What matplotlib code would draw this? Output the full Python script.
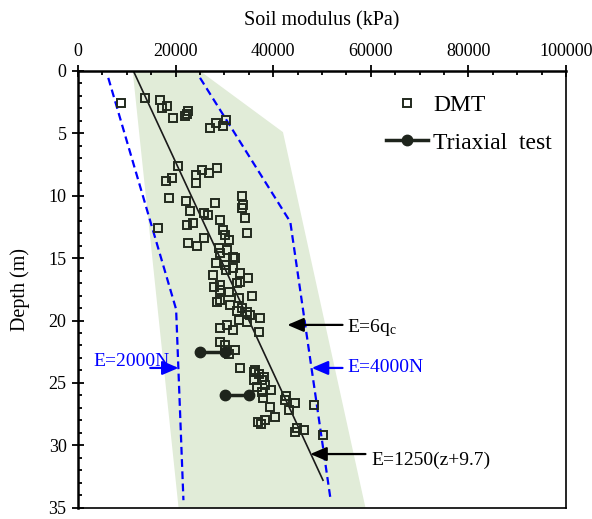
import matplotlib
matplotlib.use('Agg')
import matplotlib.pyplot as plt
from matplotlib.ticker import MultipleLocator

plt.rcParams['font.family'] = ['Liberation Serif', 'DejaVu Serif']
plt.rcParams['mathtext.fontset'] = 'custom'
plt.rcParams['mathtext.rm'] = 'Liberation Serif'
plt.rcParams['mathtext.it'] = 'Liberation Serif:italic'

# DMT soil modulus (kPa) and depth (m)
dmt_E = [8820, 13750, 16820, 18330, 17170, 19430, 21950, 22630, 22430, 27080,
         28310, 29610, 30370, 20580, 25370, 26740, 28450, 24210, 24210, 19220,
         18060, 18740, 22160, 22980, 28110, 33580, 33790, 33580, 25900, 26700,
         29130, 34260, 16480, 22430, 23510, 34610, 29810, 30160, 30840, 22630,
         24350, 25850, 28990, 30630, 29130, 31860, 32210, 28310, 30160, 30370,
         31740, 27760, 33100, 34740, 32560, 33240, 27900, 29130, 29130, 30840,
         32890, 35630, 28580, 29130, 31180, 33580, 32560, 34610, 35150, 37340,
         32890, 34610, 29130, 30500, 31860, 36990, 29130, 30160, 32210, 30840,
         30020, 33240, 35970, 36310, 38020, 35970, 37690, 38370, 39600, 37690,
         37810, 39390, 40420, 38370, 36860, 37550, 42680, 42470, 44520, 43150,
         48280, 44860, 46230, 44520, 50130, 37000, 36700]
dmt_z = [2.59, 2.19, 2.32, 2.80, 2.99, 3.79, 3.61, 3.20, 3.47, 4.59,
         4.19, 4.41, 3.93, 7.59, 7.93, 8.20, 7.75, 8.33, 9.00, 8.60,
         8.79, 10.15, 10.39, 11.19, 10.55, 9.99, 10.74, 11.00, 11.35, 11.55,
         11.94, 11.80, 12.55, 12.34, 12.20, 13.00, 12.74, 13.14, 13.54, 13.81,
         14.00, 13.41, 14.21, 14.34, 14.61, 14.88, 15.01, 15.41, 15.54, 15.95,
         15.81, 16.35, 16.21, 16.56, 17.01, 16.88, 17.28, 17.15, 17.55, 17.73,
         18.16, 18.00, 18.48, 18.35, 18.75, 19.01, 19.23, 19.33, 19.55, 19.77,
         19.95, 20.14, 20.57, 20.35, 20.75, 20.89, 21.74, 21.95, 22.36, 22.70,
         22.36, 23.77, 24.09, 23.96, 24.50, 24.76, 24.76, 25.16, 25.56, 25.70,
         26.17, 26.90, 27.70, 27.96, 28.15, 28.31, 26.02, 26.36, 26.58, 27.16,
         26.76, 28.58, 28.77, 28.95, 29.17, 24.30, 25.30]

# triaxial tests
tri1_E = [25000, 30200]
tri1_z = [22.5, 22.5]
tri2_E = [30200, 35100]
tri2_z = [26.0, 26.0]

# E = 6qc band
band_E = [11200, 25000, 42000, 58900, 20600]
band_z = [0, 0, 4.9, 35, 35]

# E = 2000N and E = 4000N
n2000_E = [6200, 20100, 21600]
n2000_z = [0.55, 19.1, 34.4]
n4000_E = [25000, 43500, 51700]
n4000_z = [0.55, 12.1, 34.2]

# E = 1250(z+9.7)
fit_E = [11350, 50200]
fit_z = [0, 32.8]

fig = plt.figure(figsize=(5.92, 5.19), dpi=100)
ax = fig.add_axes([0.1318, 0.0218, 0.8243, 0.8414])

ax.fill(band_E, band_z, color='#e1ecd8', lw=0, zorder=0)
ax.plot(n2000_E, n2000_z, color='#0000ff', ls=(0, (3.5, 2)), lw=1.6, zorder=2)
ax.plot(n4000_E, n4000_z, color='#0000ff', ls=(0, (3.5, 2)), lw=1.6, zorder=2)
ax.plot(fit_E, fit_z, color='#1a1a1a', lw=1.2, zorder=2)
ax.plot(dmt_E, dmt_z, ls='none', marker='s', ms=6.2, mfc='none', mec='#222a1e',
        mew=1.4, zorder=3, label='DMT')
ax.plot(tri1_E, tri1_z, color='#1e241c', lw=2.5, marker='o', ms=7.5, zorder=4,
        label='Triaxial  test')
ax.plot(tri2_E, tri2_z, color='#1e241c', lw=2.5, marker='o', ms=7.5, zorder=4)

arrow_k = dict(arrowstyle='-|>,head_length=0.7,head_width=0.3', color='black',
               lw=1.6, shrinkA=0, shrinkB=0, mutation_scale=14)
arrow_b = dict(arrow_k, color='#0000ff')
ax.annotate('', xy=(42900, 20.35), xytext=(54200, 20.35), arrowprops=arrow_k)
ax.text(55200, 20.55, r'E=6q$_\mathrm{c}$', fontsize=14, va='center')
ax.annotate('', xy=(47900, 23.8), xytext=(54200, 23.8), arrowprops=arrow_b)
ax.text(55200, 23.75, 'E=4000N', fontsize=14, va='center', color='#0000ff')
ax.annotate('', xy=(47600, 30.7), xytext=(58900, 30.7), arrowprops=arrow_k)
ax.text(60100, 31.2, 'E=1250(z+9.7)', fontsize=14, va='center')
ax.annotate('', xy=(20600, 23.8), xytext=(14800, 23.8), arrowprops=arrow_b)
ax.text(3200, 23.3, 'E=2000N', fontsize=14, va='center', color='#0000ff')

ax.set_xlim(0, 100000)
ax.set_ylim(35, 0)
ax.xaxis.tick_top()
ax.xaxis.set_label_position('top')
ax.xaxis.set_major_locator(MultipleLocator(20000))
ax.xaxis.set_minor_locator(MultipleLocator(5000))
ax.yaxis.set_major_locator(MultipleLocator(5))
ax.yaxis.set_minor_locator(MultipleLocator(1))
ax.tick_params(which='major', direction='inout', length=8.5, width=1.3,
               labelsize=13, pad=4)
ax.tick_params(which='minor', direction='in', length=3.2, width=1.3)
for s in ax.spines.values():
    s.set_linewidth(1.2)
ax.spines['top'].set_linewidth(1.8)
ax.spines['left'].set_linewidth(1.8)

ax.set_xlabel('Soil modulus (kPa)', fontsize=14.5, labelpad=12)
ax.set_ylabel('Depth (m)', fontsize=14.5, labelpad=13)

ax.legend(loc='upper left', bbox_to_anchor=(0.632, 0.946), frameon=False,
          fontsize=17, handlelength=1.75, handletextpad=0.22, labelspacing=0.68,
          borderpad=0, borderaxespad=0)

plt.savefig('out.png', dpi=100)
